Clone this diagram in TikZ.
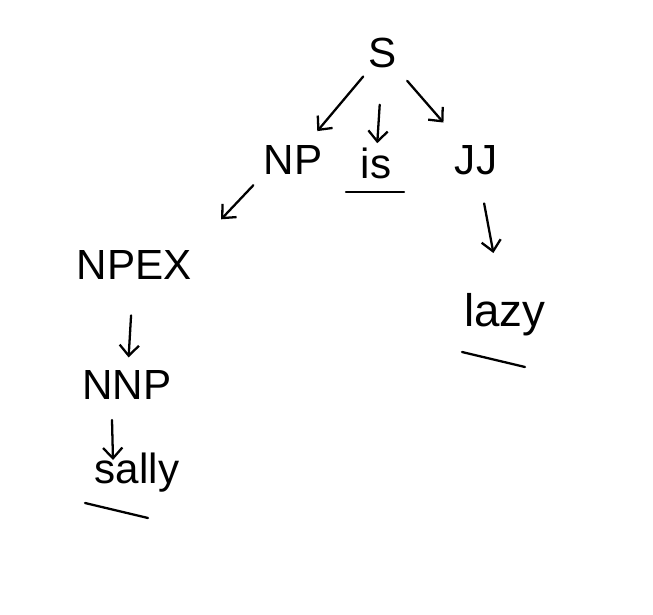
\documentclass[tikz,border=0pt]{standalone}
\usepackage{fontspec}
\setmainfont{Liberation Sans}
\usetikzlibrary{arrows.meta,calc}

\begin{document}
\begin{tikzpicture}[x=0.02cm,y=-0.02cm,
	cat/.style={font=\fontsize{24}{28}\selectfont,inner sep=2pt},
	word/.style={cat},
	branch/.style={draw,line width=1.3pt,line cap=round,-{Straight Barb[length=6pt,width=11pt]}},
	uline/.style={draw,line width=1.3pt,line cap=round}
]
	\useasboundingbox (0,0) rectangle (653,615);
	\node[cat] (s) at (383,53) {S};
	\node[cat] (np) at (293,160) {NP};
	\node[word] (is) at (376,163) {is};
	\node[cat] (jj) at (476,160) {JJ};
	\node[cat] (npex) at (134,265) {NPEX};
	\node[cat] (nnp) at (127,385) {NNP};
	\node[word] (sally) at (137,473) {sally};
	\node[word,font=\fontsize{26}{30}\selectfont] (lazy) at (505,315) {lazy};

	\draw[branch] ($(s)!0.22!(np)$) -- ($(s)!0.73!(np)$);
	\draw[branch] ($(s)!0.47!(is)$) -- ($(s)!0.82!(is)$);
	\draw[branch] ($(s)!0.26!(jj)$) -- ($(s)!0.65!(jj)$);
	\draw[branch] ($(np.south west)!0.1!(npex.north east)$) -- ($(np.south west)!0.6!(npex.north east)$);
	\draw[branch] ($(npex)!0.42!(nnp)$) -- ($(npex)!0.77!(nnp)$);
	\draw[branch] ($(nnp)+(-15,0)$) ++(0,35) -- ($(sally)+(-24,-13)$);
	\draw[branch] ($(jj)!0.28!(lazy)$) -- ($(jj)!0.6!(lazy)$);

	% underlines of the words
	\draw[uline] ($(is)+(-30,29)$) -- ($(is)+(28,29)$);
	\draw[uline] ($(sally)+(-52,30)$) -- ($(sally)+(11,45)$);
	\draw[uline] ($(lazy)+(-43,37)$) -- ($(lazy)+(20,52)$);
\end{tikzpicture}
\end{document}
